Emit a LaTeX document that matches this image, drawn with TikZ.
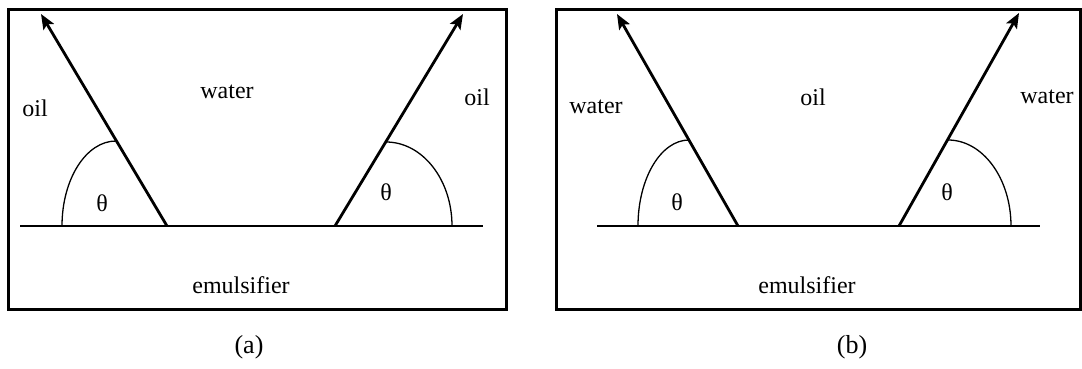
\documentclass[tikz,border=0pt]{standalone}
\usepackage{fontspec}
\setmainfont{Liberation Serif}
\usepackage{tikz}
\usetikzlibrary{arrows.meta}

\begin{document}
\begin{tikzpicture}[x=1pt,y=1pt,
  frame/.style={draw,line width=3pt},
  surf/.style={line width=1.3pt},
  ang/.style={line width=1.3pt},
  ray/.style={line width=2.8pt,-{Stealth[length=15pt,width=12pt,inset=3pt]}},
  lbl/.style={inner sep=0pt,font=\fontsize{24}{28}\selectfont},
  sublbl/.style={inner sep=0pt,font=\fontsize{26}{30}\selectfont}]
\useasboundingbox (0,0) rectangle (1082,368);
% panel (a)
\draw[frame] (8,358.5) rectangle (506,59);
\coordinate (aL) at (20,142);
\coordinate (aR) at (483,142);
\coordinate (a1) at (167,142);
\coordinate (a2) at (335,142);
\coordinate (a1t) at (41,354);
\coordinate (a2t) at (463,354);
\draw[surf] (aL) -- (aR);
\draw[ang] (62,142) arc[start angle=180,end angle=90,x radius=54,y radius=85];
\draw[ang] (452,142) arc[start angle=0,end angle=90,x radius=66,y radius=84];
\draw[ray] (a1) -- (a1t);
\draw[ray] (a2) -- (a2t);
\node[lbl] (aoilL) at (35,260) {oil};
\node[lbl] (awater) at (227,276) {water};
\node[lbl] (aoilR) at (477,271) {oil};
\node[lbl] (athL) at (102,165) {θ};
\node[lbl] (athR) at (386,176) {θ};
\node[lbl] (aemul) at (241,83) {emulsifier};
\node[sublbl] (acap) at (249,21) {(a)};
% panel (b)
\draw[frame] (556,358.5) rectangle (1080,59);
\coordinate (bL) at (597,142);
\coordinate (bR) at (1040,142);
\coordinate (b1) at (738,142);
\coordinate (b2) at (899,142);
\coordinate (b1t) at (617,354);
\coordinate (b2t) at (1019,355);
\draw[surf] (bL) -- (bR);
\draw[ang] (638,142) arc[start angle=180,end angle=90,x radius=51,y radius=86];
\draw[ang] (1011,142) arc[start angle=0,end angle=90,x radius=63,y radius=86];
\draw[ray] (b1) -- (b1t);
\draw[ray] (b2) -- (b2t);
\node[lbl] (bwaterL) at (596,261) {water};
\node[lbl] (boil) at (813,271) {oil};
\node[lbl] (bwaterR) at (1047,271) {water};
\node[lbl] (bthL) at (677,166) {θ};
\node[lbl] (bthR) at (947,176) {θ};
\node[lbl] (bemul) at (807,83) {emulsifier};
\node[sublbl] (bcap) at (852,21) {(b)};
\end{tikzpicture}
\end{document}
